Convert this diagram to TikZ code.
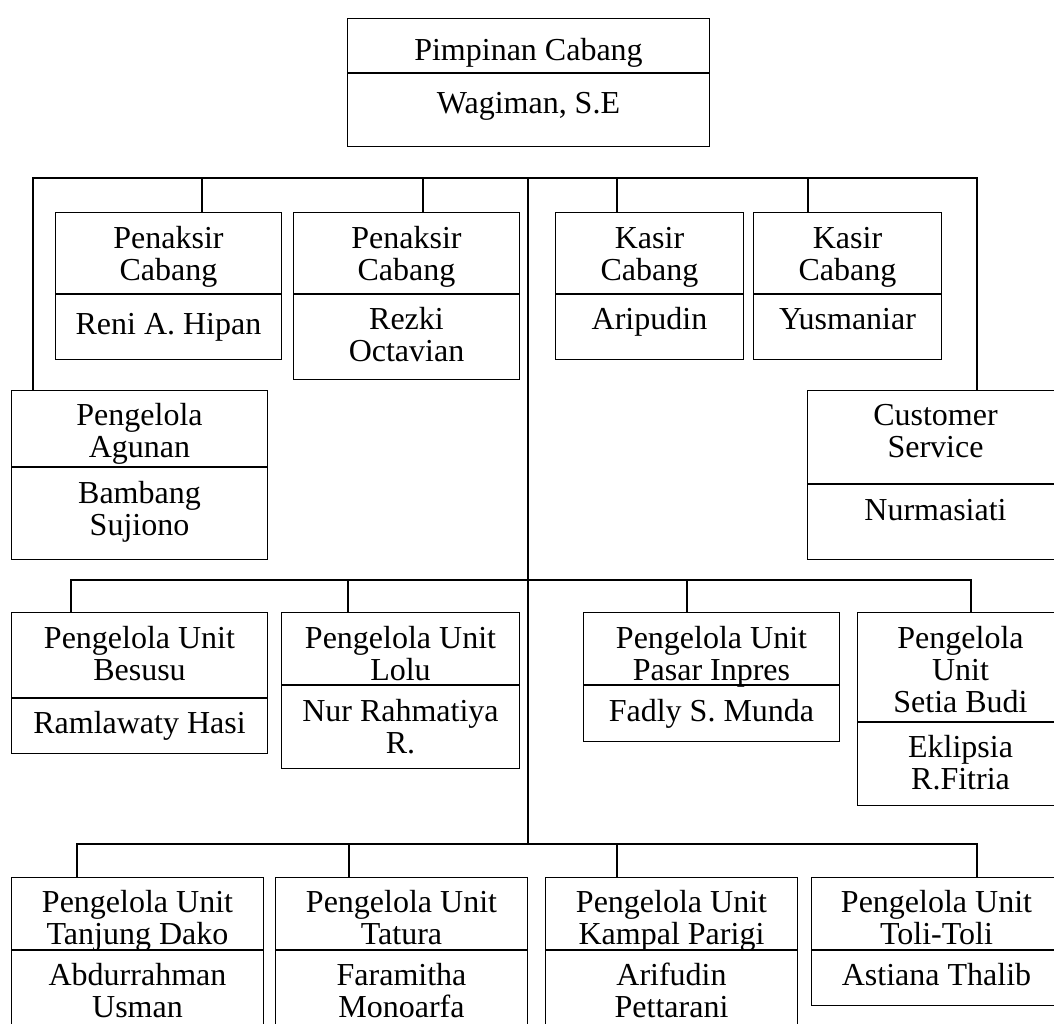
\documentclass[tikz,border=0pt]{standalone}
\usepackage{fontspec}
\setmainfont{Liberation Serif}
\newcommand{\cellbox}[4]{\parbox[c][#2][t]{#1}{\centering\rule{0pt}{#3}#4\par}}

\begin{document}
\begin{tikzpicture}[x=1pt,y=-1pt,
  cell/.style={draw,line width=1pt,inner sep=0pt,anchor=north west,
    font=\fontsize{32}{32}\selectfont},
  link/.style={line width=1.6pt}]
\useasboundingbox (0,0) rectangle (1054,1023);
\clip (0,0) rectangle (1054,1023);

\node[cell] (pimp) at (347,18) {\cellbox{362pt}{54pt}{42pt}{Pimpinan Cabang}};
\node[cell] (pimp-n) at (pimp.south west) {\cellbox{362pt}{73pt}{40pt}{Wagiman, S.E}};

% first row
\node[cell] (penA) at (55,212) {\cellbox{226pt}{81pt}{36pt}{Penaksir\\Cabang}};
\node[cell] (penA-n) at (penA.south west) {\cellbox{226pt}{65pt}{40pt}{Reni A. Hipan}};
\node[cell] (penB) at (293,212) {\cellbox{226pt}{81pt}{36pt}{Penaksir\\Cabang}};
\node[cell] (penB-n) at (penB.south west) {\cellbox{226pt}{85pt}{35pt}{Rezki\\Octavian}};
\node[cell] (kasA) at (555,212) {\cellbox{188pt}{81pt}{36pt}{Kasir\\Cabang}};
\node[cell] (kasA-n) at (kasA.south west) {\cellbox{188pt}{65pt}{35pt}{Aripudin}};
\node[cell] (kasB) at (753,212) {\cellbox{188pt}{81pt}{36pt}{Kasir\\Cabang}};
\node[cell] (kasB-n) at (kasB.south west) {\cellbox{188pt}{65pt}{35pt}{Yusmaniar}};

\node[cell] (agunan) at (11,390) {\cellbox{256pt}{76pt}{35pt}{Pengelola\\Agunan}};
\node[cell] (agunan-n) at (agunan.south west) {\cellbox{256pt}{92pt}{36pt}{Bambang\\Sujiono}};
\node[cell] (cs) at (807,390) {\cellbox{256pt}{93pt}{35pt}{Customer\\Service}};
\node[cell] (cs-n) at (cs.south west) {\cellbox{256pt}{75pt}{36pt}{Nurmasiati}};

% second row
\node[cell] (besusu) at (11,612) {\cellbox{256pt}{85pt}{36pt}{Pengelola Unit\\Besusu}};
\node[cell] (besusu-n) at (besusu.south west) {\cellbox{256pt}{55pt}{35pt}{Ramlawaty Hasi}};
\node[cell] (lolu) at (281,612) {\cellbox{238pt}{72pt}{36pt}{Pengelola Unit\\Lolu}};
\node[cell] (lolu-n) at (lolu.south west) {\cellbox{238pt}{83pt}{36pt}{Nur Rahmatiya\\R.}};
\node[cell] (pasar) at (583,612) {\cellbox{256pt}{72pt}{36pt}{Pengelola Unit\\Pasar Inpres}};
\node[cell] (pasar-n) at (pasar.south west) {\cellbox{256pt}{56pt}{36pt}{Fadly S. Munda}};
\node[cell] (setia) at (857,612) {\cellbox{206pt}{109pt}{36pt}{Pengelola\\Unit\\Setia Budi}};
\node[cell] (setia-n) at (setia.south west) {\cellbox{206pt}{83pt}{35pt}{Eklipsia\\R.Fitria}};

% third row
\node[cell] (tanjung) at (11,877) {\cellbox{252pt}{72pt}{35pt}{Pengelola Unit\\Tanjung Dako}};
\node[cell] (tanjung-n) at (tanjung.south west) {\cellbox{252pt}{90pt}{35pt}{Abdurrahman\\Usman}};
\node[cell] (tatura) at (275,877) {\cellbox{252pt}{72pt}{35pt}{Pengelola Unit\\Tatura}};
\node[cell] (tatura-n) at (tatura.south west) {\cellbox{252pt}{90pt}{35pt}{Faramitha\\Monoarfa}};
\node[cell] (kampal) at (545,877) {\cellbox{252pt}{72pt}{35pt}{Pengelola Unit\\Kampal Parigi}};
\node[cell] (kampal-n) at (kampal.south west) {\cellbox{252pt}{90pt}{35pt}{Arifudin\\Pettarani}};
\node[cell] (toli) at (811,877) {\cellbox{250pt}{72pt}{35pt}{Pengelola Unit\\Toli-Toli}};
\node[cell] (toli-n) at (toli.south west) {\cellbox{250pt}{55pt}{35pt}{Astiana Thalib}};

% buses
\coordinate (b1L) at (33,178);
\coordinate (b1R) at (977,178);
\coordinate (b2L) at (71,580);
\coordinate (b2R) at (971,580);
\coordinate (b3L) at (77,844);
\coordinate (b3R) at (977,844);
\coordinate (trunk) at (528,178);

\draw[link] (agunan.north -| b1L) -- (b1L) -- (b1R) -- (cs.north -| b1R);
\draw[link] (trunk) -- (trunk |- b3L);
\draw[link] (besusu.north -| b2L) -- (b2L) -- (b2R) -- (setia.north -| b2R);
\draw[link] (tanjung.north -| b3L) -- (b3L) -- (b3R) -- (toli.north -| b3R);

\foreach \x/\n in {202/penA,423/penB,617/kasA,808/kasB}
  \draw[link] (\x,178) -- (\n.north -| \x,178);
\foreach \x/\n in {348/lolu,687/pasar}
  \draw[link] (\x,580) -- (\n.north -| \x,580);
\foreach \x/\n in {349/tatura,617/kampal}
  \draw[link] (\x,844) -- (\n.north -| \x,844);

\end{tikzpicture}
\end{document}
